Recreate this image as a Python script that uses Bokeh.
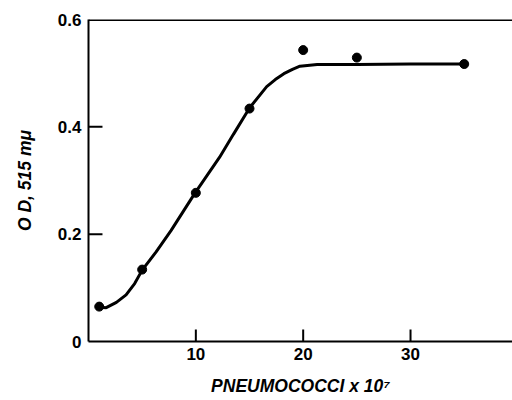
import math
from bokeh.plotting import figure
from bokeh.models import FixedTicker, Range1d, Span
from bokeh.embed import file_html
from bokeh.resources import INLINE

# measured points
pts_x = [1, 5, 10, 15, 20, 25, 35]
pts_y = [0.065, 0.134, 0.277, 0.434, 0.543, 0.529, 0.517]

# fitted curve
curve_x = [1, 1.65, 2.6, 3.5, 4.3, 5.0, 6.3, 7.7, 9.9, 12.2, 13.5, 15.0, 16.6, 17.4, 18.2, 19.0, 19.7, 21.3, 25, 30, 35]
curve_y = [0.064, 0.063, 0.073, 0.087, 0.108, 0.133, 0.167, 0.207, 0.276, 0.343, 0.386, 0.435, 0.475, 0.488, 0.499, 0.507, 0.513, 0.516, 0.516, 0.517, 0.517]

x_ticks = [10, 20, 30]
y_ticks = [0, 0.2, 0.4, 0.6]
y_tick_labels = {0: "0", 0.2: "0.2", 0.4: "0.4", 0.6: "0.6"}
y_inner_ticks = [0.2, 0.4]
x_label = "PNEUMOCOCCI x 10\u2077"
y_label = "O D, 515 m\u03bc"

FONT = "Liberation Sans"
X_RANGE = (0, 39.5)
Y_RANGE = (0, 0.6)
TICK_LEN_X = 0.022   # inward tick length of x ticks, in y data units (~12 px)
TICK_LEN_Y = 1.3     # inward tick length of y ticks, in x data units (~14 px)

p = figure(width=512, height=400, output_backend="svg", toolbar_location=None,
           x_range=Range1d(*X_RANGE), y_range=Range1d(*Y_RANGE),
           min_border_left=88, min_border_right=0, min_border_top=19, min_border_bottom=59)
p.xgrid.grid_line_color = None
p.ygrid.grid_line_color = None
p.outline_line_color = None

p.xaxis.ticker = FixedTicker(ticks=x_ticks)
p.yaxis.ticker = FixedTicker(ticks=y_ticks)
p.yaxis.major_label_overrides = y_tick_labels
p.xaxis.axis_label = x_label
p.yaxis.axis_label = y_label
for ax in (p.xaxis, p.yaxis):
    ax.axis_line_width = 2
    ax.axis_line_color = "black"
    ax.major_tick_in = 0
    ax.major_tick_out = 0
    ax.minor_tick_line_color = None
    ax.major_label_text_font = FONT
    ax.major_label_text_font_style = "bold"
    ax.major_label_text_font_size = "17px"
    ax.major_label_text_color = "black"
    ax.axis_label_text_font = FONT
    ax.axis_label_text_font_style = "bold italic"
    ax.axis_label_text_font_size = "17.5px"
    ax.axis_label_text_color = "black"
p.xaxis.major_label_standoff = 6
p.xaxis.axis_label_standoff = 13
p.yaxis.major_label_standoff = 7
p.yaxis.axis_label_standoff = 20

# top frame border
p.add_layout(Span(location=Y_RANGE[1], dimension="width", line_width=3, line_color="black"))

# inward tick marks, drawn as dashes lying fully inside the frame
p.scatter(x_ticks, [Y_RANGE[0] + TICK_LEN_X / 2] * len(x_ticks), marker="dash",
          angle=math.pi / 2, size=12, line_width=2, line_color="black")
p.scatter([X_RANGE[0] + TICK_LEN_Y / 2] * len(y_inner_ticks), y_inner_ticks, marker="dash",
          size=14, line_width=2, line_color="black")

p.line(curve_x, curve_y, line_width=3, line_color="black")
p.scatter(pts_x, pts_y, size=9, fill_color="black", line_color="black")

open("out.html", "w").write(file_html(p, INLINE))
